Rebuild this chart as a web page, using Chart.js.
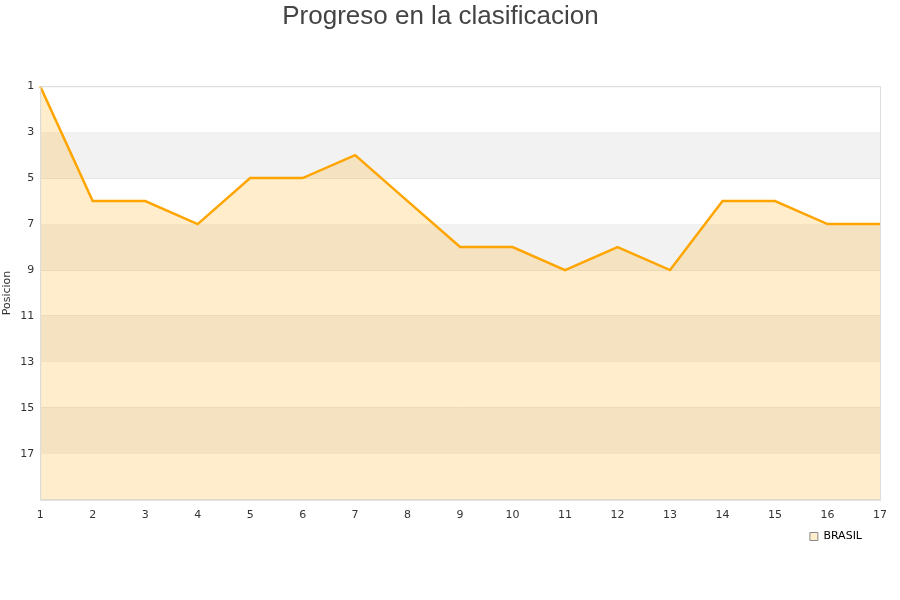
<!DOCTYPE html>
<html>
<head>
<meta charset="utf-8">
<script src="https://cdn.jsdelivr.net/npm/chart.js@4/dist/chart.umd.min.js"></script>
<style>
  html, body { margin: 0; padding: 0; background: #fff; }
  #wrap { width: 900px; height: 600px; }
</style>
</head>
<body>
<div id="wrap"><canvas id="chart" width="900" height="600"></canvas></div>
<script>
const jornadas = ["1","2","3","4","5","6","7","8","9","10","11","12","13","14","15","16","17"];
const posiciones = [1, 6, 6, 7, 5, 5, 4, 6, 8, 8, 9, 8, 9, 6, 6, 7, 7];
const equipo = "BRASIL";
const yTicks = [1, 3, 5, 7, 9, 11, 13, 15, 17];

// grey bands every other 2 positions, drawn under the data
const bands = {
  id: 'bands',
  afterLayout(chart) {
    // nudge the legend a bit left of the plot edge
    chart.legend.left -= 10;
    chart.legend.right -= 10;
  },
  beforeDatasetsDraw(chart) {
    const { ctx, chartArea, scales } = chart;
    const y = scales.y;
    ctx.save();
    ctx.fillStyle = '#f2f2f2';
    for (let v = 3; v < 19; v += 4) {
      const top = y.getPixelForValue(v);
      const bot = y.getPixelForValue(v + 2);
      ctx.fillRect(chartArea.left, top, chartArea.right - chartArea.left, bot - top);
    }
    ctx.restore();
  },
  afterDatasetsDraw(chart) {
    const { ctx, chartArea } = chart;
    ctx.save();
    ctx.strokeStyle = '#dddddd';
    ctx.lineWidth = 1;
    ctx.strokeRect(chartArea.left + 0.5, chartArea.top + 0.5,
      chartArea.right - chartArea.left, chartArea.bottom - chartArea.top);
    ctx.restore();
  }
};

new Chart(document.getElementById('chart').getContext('2d'), {
  type: 'line',
  data: {
    labels: jornadas,
    datasets: [{
      label: equipo,
      data: posiciones,
      borderColor: '#FFA500',
      backgroundColor: 'rgba(255,165,0,0.2)',
      borderWidth: 2.5,
      pointRadius: 0,
      tension: 0,
      fill: 'start'
    }]
  },
  options: {
    responsive: false,
    animation: false,
    layout: { padding: { top: 0, right: 20, bottom: 48, left: 1 } },
    plugins: {
      title: {
        display: true,
        text: 'Progreso en la clasificacion',
        color: '#444',
        font: { family: 'Liberation Sans, Arial, sans-serif', size: 26, weight: 'normal' },
        padding: { top: 1, bottom: 54 }
      },
      legend: {
        position: 'bottom',
        align: 'end',
        labels: {
          color: '#000',
          boxWidth: 8,
          boxHeight: 8,
          padding: 8,
          font: { family: 'DejaVu Sans, sans-serif', size: 11 },
          generateLabels(chart) {
            return [{
              text: equipo,
              fillStyle: 'rgba(255,165,0,0.2)',
              strokeStyle: '#888',
              lineWidth: 1,
              datasetIndex: 0
            }];
          }
        }
      },
      tooltip: { enabled: false }
    },
    scales: {
      x: {
        offset: false,
        grid: { display: false },
        border: { color: '#dddddd' },
        ticks: { color: '#333', font: { family: 'DejaVu Sans, sans-serif', size: 11 }, maxRotation: 0, padding: 1 }
      },
      y: {
        reverse: true,
        min: 1,
        max: 19,
        afterBuildTicks(axis) {
          axis.ticks = yTicks.concat([19]).map(v => ({ value: v }));
        },
        grid: { color: '#e6e6e6', drawTicks: false },
        border: { color: '#dddddd' },
        ticks: {
          color: '#333',
          padding: 6,
          font: { family: 'DejaVu Sans, sans-serif', size: 11 },
          callback: v => (v === 19 ? '' : v)
        },
        title: {
          display: true,
          text: 'Posicion',
          color: '#333',
          font: { family: 'DejaVu Sans, sans-serif', size: 11 },
          padding: 0
        }
      }
    }
  },
  plugins: [bands]
});
</script>
</body>
</html>
